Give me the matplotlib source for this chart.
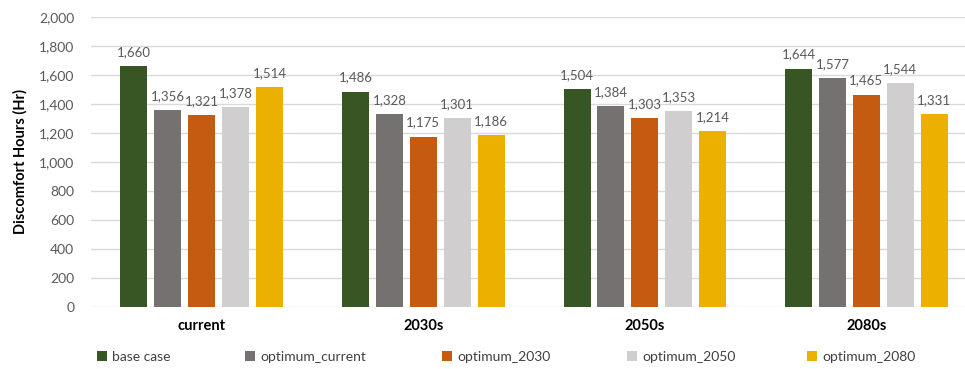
import numpy as np
import matplotlib
matplotlib.use("Agg")
import matplotlib.pyplot as plt
from matplotlib.ticker import FuncFormatter

plt.rcParams['font.family'] = ['Lato', 'DejaVu Sans']

periods = ['current', '2030s', '2050s', '2080s']
series_names = ['base case', 'optimum_current', 'optimum_2030', 'optimum_2050', 'optimum_2080']
base_case = [1660, 1486, 1504, 1644]
opt_current = [1356, 1328, 1384, 1577]
opt_2030 = [1321, 1175, 1303, 1465]
opt_2050 = [1378, 1301, 1353, 1544]
opt_2080 = [1514, 1186, 1214, 1331]
colors = ['#375623', '#767171', '#C55A11', '#D0CECE', '#EBB000']

series = [base_case, opt_current, opt_2030, opt_2050, opt_2080]

fig = plt.figure(figsize=(9.65, 3.69), dpi=100)
ax = fig.add_axes([91 / 965, 1 - 307 / 369, 874 / 965, 290 / 369])

x = np.arange(len(periods))
pitch = 0.153
width = 0.122
handles = []
for i, (vals, name, c) in enumerate(zip(series, series_names, colors)):
    pos = x + (i - 2) * pitch
    bars = ax.bar(pos, vals, width, color=c, label=name, zorder=3)
    handles.append(bars)
    for b, v in zip(bars, vals):
        ax.text(b.get_x() + b.get_width() / 2, v + 55, f'{v:,}',
                ha='center', va='bottom', fontsize=9.5, color='#595959')

ax.set_xlim(-0.5, 3.445)
ax.set_ylim(0, 2000)
ax.set_yticks(range(0, 2001, 200))
ax.yaxis.set_major_formatter(FuncFormatter(lambda v, p: f'{int(v):,}'))
ax.grid(axis='y', color='#D9D9D9', linewidth=1, zorder=0)
for s in ax.spines.values():
    s.set_visible(False)
ax.tick_params(axis='both', length=0)
ax.tick_params(axis='y', labelsize=10, labelcolor='#595959', pad=12)
ax.set_xticks(x)
ax.set_xticklabels(periods, fontsize=10.5, fontweight='bold', color='black')
ax.tick_params(axis='x', pad=9)
ax.set_ylabel('Discomfort Hours (Hr)', fontsize=10.5, fontweight='bold', labelpad=8)

# one legend entry per series, spaced along the bottom
legend_x = [97, 245, 442, 627, 807]
for h, name, lx in zip(handles, series_names, legend_x):
    fig.legend([h], [name], loc='center left', bbox_to_anchor=(lx / 965, 1 - 357 / 369),
               frameon=False, fontsize=10, handlelength=0.7, handleheight=0.7,
               handletextpad=0.4, borderpad=0, borderaxespad=0, labelcolor='#404040')

fig.savefig('out.png', dpi=100)
